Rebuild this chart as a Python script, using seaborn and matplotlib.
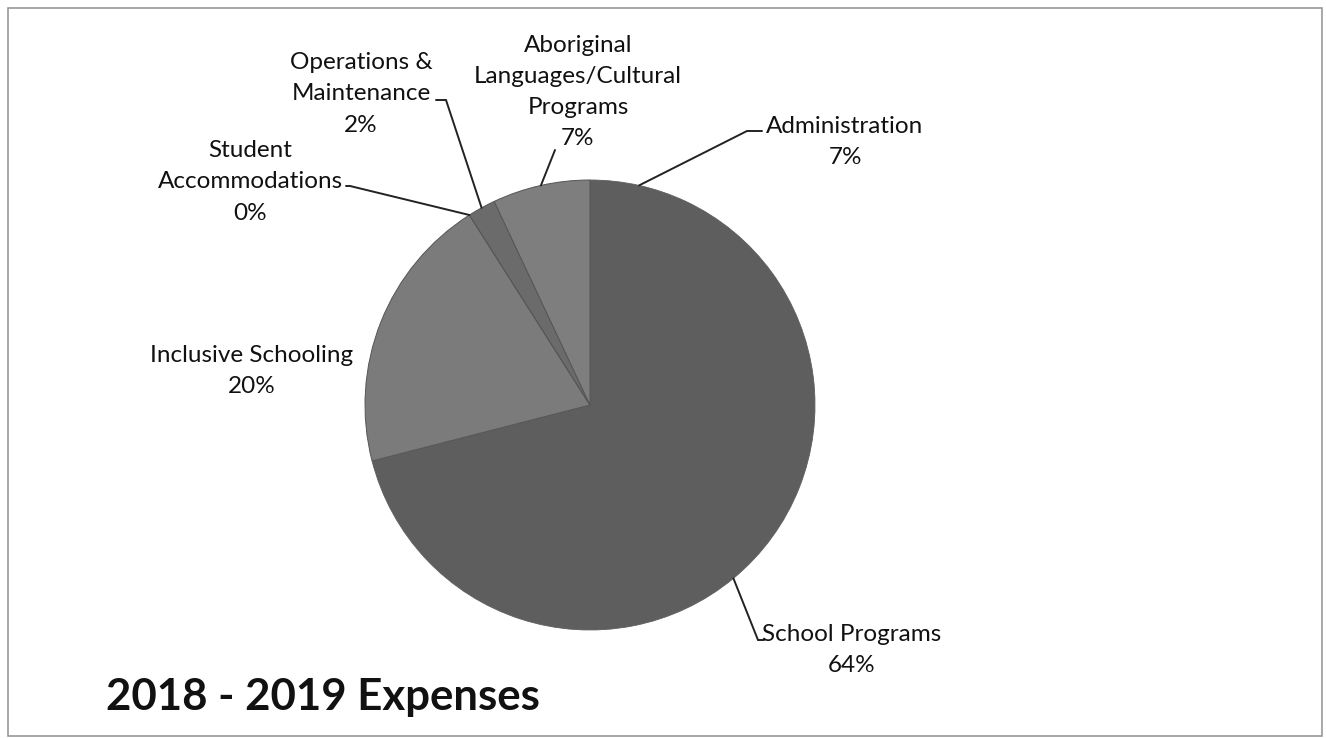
import numpy as np
import matplotlib
matplotlib.use("Agg")
import matplotlib.pyplot as plt
import seaborn as sns

# Expense categories, clockwise from 12 o'clock
categories = [
    "Administration",
    "School Programs",
    "Inclusive Schooling",
    "Student\nAccommodations",
    "Operations &\nMaintenance",
    "Aboriginal\nLanguages/Cultural\nPrograms",
]
shares = [7, 64, 20, 0, 2, 7]
slice_colors = ["#5e5e5e", "#5e5e5e", "#7b7b7b", "#7b7b7b", "#6b6b6b", "#7e7e7e"]
title = "2018 - 2019 Expenses"

sns.set_theme(style="white")
plt.rcParams["font.family"] = ["Lato", "DejaVu Sans"]

W, H = 1326, 738
fig = plt.figure(figsize=(W / 100, H / 100), dpi=100)
ax = fig.add_axes([0, 0, 1, 1])

# pixel layout helpers: pie centre and radius in pixels
CX, CY, R = 590, 405, 225


def px(x, y):
    return (x - CX) / R, (CY - y) / R


wedges, _ = ax.pie(
    shares,
    colors=slice_colors,
    startangle=90,
    counterclock=False,
    radius=1.0,
    wedgeprops=dict(linewidth=0.6),
)
# slices sharing a shade blend into one another; others get a faint dark seam
for w in wedges:
    w.set_edgecolor(w.get_facecolor())
for w in wedges[2:]:
    w.set_edgecolor("#555555")
    w.set_linewidth(0.7)

ax.set_xlim(-CX / R, (W - CX) / R)
ax.set_ylim(-(H - CY) / R, CY / R)
ax.set_aspect("equal")
ax.axis("off")

# label text centre, knee of the leader line, and end of the leader line (pixels)
label_layout = [
    dict(text=(845, 142), knee=(747, 131), end=(762, 131)),
    dict(text=(852, 650), knee=(758, 640), end=(764, 640)),
    dict(text=(252, 371), knee=None, end=None),
    dict(text=(250, 182), knee=(350, 186), end=(346, 186)),
    dict(text=(361, 94), knee=(446, 100), end=(436, 100)),
    dict(text=(578, 92), knee=(555, 150), end=(555, 150)),
]

for w, name, val, lay in zip(wedges, categories, shares, label_layout):
    tx, ty = px(*lay["text"])
    ax.text(tx, ty, f"{name}\n{val}%", ha="center", va="center",
            fontsize=17.5, color="#111111", linespacing=1.6)
    if lay["knee"] is not None:
        mid = np.deg2rad((w.theta1 + w.theta2) / 2)
        sx, sy = np.cos(mid), np.sin(mid)
        kx, ky = px(*lay["knee"])
        ex, ey = px(*lay["end"])
        ax.plot([sx, kx, ex], [sy, ky, ey], color="#222222", lw=1.4,
                solid_joinstyle="miter")

ax.text(*px(106, 697), title, ha="left", va="center", fontsize=31.5,
        fontweight="bold", color="#111111")

# thin grey frame around the chart area
frame = plt.Rectangle((8 / W, 2 / H), (W - 12) / W, (H - 10) / H,
                      transform=fig.transFigure, fill=False,
                      edgecolor="#9a9a9a", linewidth=1.2)
fig.add_artist(frame)

fig.savefig("out.png", dpi=100, facecolor="white")
